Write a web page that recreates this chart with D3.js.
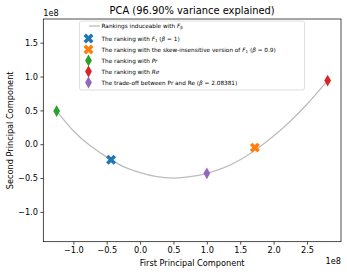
<!DOCTYPE html>
<html>
<head>
<meta charset="utf-8">
<script src="https://cdn.jsdelivr.net/npm/d3@7"></script>
<style>
body{margin:0;background:#fff;}
text{font-family:"DejaVu Sans",sans-serif;fill:#000;}
</style>
</head>
<body>
<div id="chart"></div>
<script>
// curve of rankings
var curveX = [-1.25e8,-1.0e8,-0.75e8,-0.5e8,-0.25e8,0,0.25e8,0.5e8,0.75e8,1.0e8,1.25e8,1.5e8,1.75e8,2.0e8,2.25e8,2.5e8,2.81e8];
var curveY = [0.49e8,0.20e8,-0.02e8,-0.19e8,-0.33e8,-0.42e8,-0.48e8,-0.50e8,-0.48e8,-0.43e8,-0.35e8,-0.23e8,-0.07e8,0.12e8,0.34e8,0.59e8,0.94e8];

var pointNames = ["F1","skew","Pr","Re","tradeoff"];
var pointX = [-0.435e8, 1.72e8, -1.25e8, 2.81e8, 1.0e8];
var pointY = [-0.23e8, -0.05e8, 0.49e8, 0.94e8, -0.43e8];
var pointColors = ["#1f77b4","#ff7f0e","#2ca02c","#d62728","#9467bd"];
var pointShapes = ["X","X","d","d","d"];

var xTicks = [-1.0e8,-0.5e8,0,0.5e8,1.0e8,1.5e8,2.0e8,2.5e8];
var yTicks = [-1.0e8,-0.5e8,0,0.5e8,1.0e8,1.5e8];

var W = 347, H = 272;
var L = 43.3, R = 341, T = 19, B = 241.7;

var svg = d3.select("#chart").append("svg").attr("width",W).attr("height",H);

var x = d3.scaleLinear().domain([-1.45e8, 3.01e8]).range([L, R]);
var y = d3.scaleLinear().domain([-1.44e8, 1.85e8]).range([B, T]);

function fmt(v){
	var s = (v/1e8).toFixed(1);
	return s.replace("-","\u2212");
}

// axes
var xAxis = d3.axisBottom(x).tickValues(xTicks).tickFormat(fmt).tickSize(2.9).tickPadding(2.5);
var yAxis = d3.axisLeft(y).tickValues(yTicks).tickFormat(fmt).tickSize(2.9).tickPadding(2.5);

var gx = svg.append("g").attr("transform","translate(0,"+B+")").call(xAxis);
var gy = svg.append("g").attr("transform","translate("+L+",0)").call(yAxis);
[gx,gy].forEach(function(g){
	g.select(".domain").remove();
	g.selectAll("line").attr("stroke","#000").attr("stroke-width",0.7);
	g.selectAll("text").attr("font-size","8.2px").attr("font-family","DejaVu Sans").attr("fill","#000");
});

// frame
svg.append("rect").attr("x",L).attr("y",T).attr("width",R-L).attr("height",B-T)
	.attr("fill","none").attr("stroke","#000").attr("stroke-width",0.7);

// curve
var pts = curveX.map(function(v,i){ return [v, curveY[i]]; });
var line = d3.line().x(function(d){return x(d[0]);}).y(function(d){return y(d[1]);}).curve(d3.curveNatural);
svg.append("path").datum(pts).attr("d",line).attr("fill","none")
	.attr("stroke","#bdbdbd").attr("stroke-width",1.3);

function shapePath(s){
	if(s=="X") return d3.symbol().type(d3.symbolCross).size(62)();
	return d3.symbol().type(d3.symbolDiamond).size(40)();
}
function drawMarker(g, s, color, cx, cy){
	g.append("path").attr("d",shapePath(s)).attr("fill",color)
		.attr("transform","translate("+cx+","+cy+")"+(s=="X"?" rotate(45)":""));
}

pointNames.forEach(function(n,i){
	drawMarker(svg, pointShapes[i], pointColors[i], x(pointX[i]), y(pointY[i]));
});

// titles
svg.append("text").attr("x",(L+R)/2).attr("y",14).attr("text-anchor","middle")
	.attr("font-size","9.9px").text("PCA (96.90% variance explained)");
svg.append("text").attr("x",(L+R)/2).attr("y",265.5).attr("text-anchor","middle")
	.attr("font-size","8.2px").text("First Principal Component");
svg.append("text").attr("transform","translate(12.5,"+((T+B)/2)+") rotate(-90)").attr("text-anchor","middle")
	.attr("font-size","8.2px").text("Second Principal Component");
svg.append("text").attr("x",L).attr("y",16).attr("font-size","8.2px").text("1e8");
svg.append("text").attr("x",R).attr("y",264).attr("text-anchor","end").attr("font-size","8.2px").text("1e8");

// legend
var legendLabels = [
	[{t:"Rankings induceable with "},{t:"F",i:1},{t:"\u03b2",sub:1}],
	[{t:"The ranking with "},{t:"F",i:1},{t:"1",sub:1},{t:" ("},{t:"\u03b2",i:1},{t:" = 1)"}],
	[{t:"The ranking with the skew-insensitive version of "},{t:"F",i:1},{t:"1",sub:1},{t:" ("},{t:"\u03b2",i:1},{t:" = 0.9)"}],
	[{t:"The ranking with "},{t:"Pr",i:1}],
	[{t:"The ranking with "},{t:"Re",i:1}],
	[{t:"The trade-off between Pr and Re ("},{t:"\u03b2",i:1},{t:" = 2.08381)"}]
];
var legendY = [26, 38.5, 49.5, 60.5, 71.5, 82.5];

var lg = svg.append("g");
lg.append("rect").attr("x",79.5).attr("y",21).attr("width",225).attr("height",69).attr("rx",2)
	.attr("fill","#fff").attr("fill-opacity",0.8).attr("stroke","#d0d0d0").attr("stroke-width",0.7);
lg.append("line").attr("x1",89).attr("x2",100).attr("y1",legendY[0]).attr("y2",legendY[0])
	.attr("stroke","#bdbdbd").attr("stroke-width",1.3);
pointNames.forEach(function(n,i){
	drawMarker(lg, pointShapes[i], pointColors[i], 88.5, legendY[i+1]);
});
legendLabels.forEach(function(segs,i){
	var t = lg.append("text").attr("x",101.5).attr("y",legendY[i]+2).attr("font-size","5.75px");
	segs.forEach(function(s, k){
		var sp = t.append("tspan").text(s.t);
		if(s.i) sp.attr("font-style","italic");
		if(s.sub) sp.attr("font-size","4px").attr("dy","1.2");
		else if(k > 0 && segs[k-1].sub) sp.attr("dy","-1.2");
	});
});
</script>
</body>
</html>
